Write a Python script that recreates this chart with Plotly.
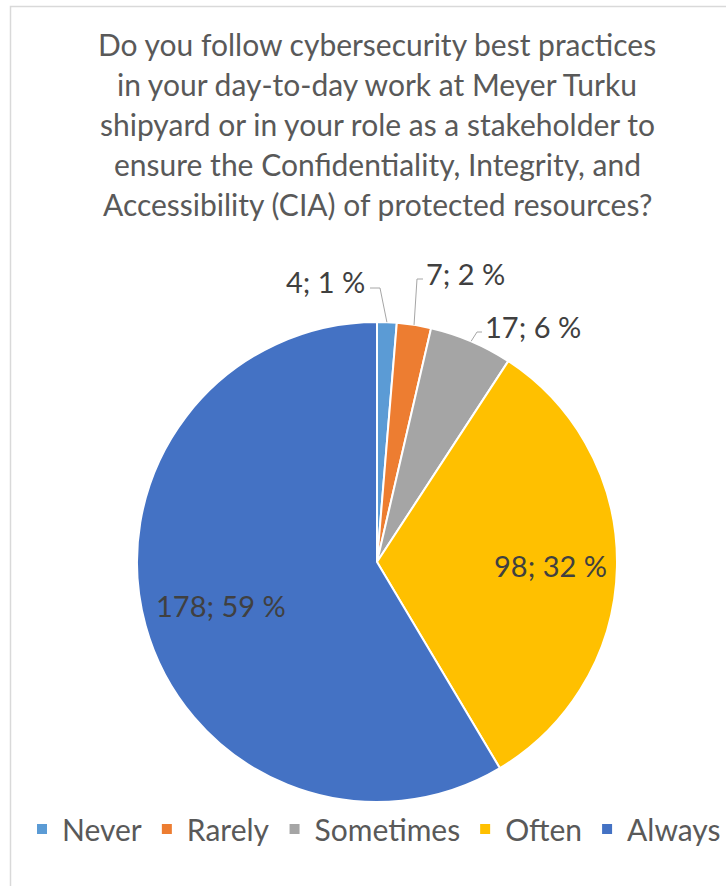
import math
import plotly.graph_objects as go

# Survey answers
categories = ["Never", "Rarely", "Sometimes", "Often", "Always"]
counts = [4, 7, 17, 98, 178]
colors = ["#5B9BD5", "#ED7D31", "#A5A5A5", "#FFC000", "#4472C4"]

title_lines = [
    "Do you follow cybersecurity best practices",
    "in your day-to-day work at Meyer Turku",
    "shipyard or in your role as a stakeholder to",
    "ensure the Confidentiality, Integrity, and",
    "Accessibility (CIA) of protected resources?",
]

# Canvas geometry (pixels)
W, H = 726, 886
CX, CY, R = 377, 562, 240
FONT = "Lato, 'Open Sans', sans-serif"
TITLE_TOP, TITLE_STEP = 44, 40


def px(x):
    return x / W


def py(y):
    return 1 - y / H


total = sum(counts)
percents = [round(v / total * 100) for v in counts]
label_texts = [f"{v}; {p} %" for v, p in zip(counts, percents)]

# mid-angle of each slice, clockwise from 12 o'clock
mid_angles = []
cum = 0
for v in counts:
    mid_angles.append(2 * math.pi * (cum + v / 2) / total)
    cum += v


def polar(theta, r):
    return CX + r * math.sin(theta), CY - r * math.cos(theta)


fig = go.Figure(
    go.Pie(
        labels=categories,
        values=counts,
        sort=False,
        direction="clockwise",
        rotation=0,
        marker=dict(colors=colors, line=dict(color="white", width=2)),
        textinfo="none",
        hoverinfo="skip",
        domain=dict(x=[px(CX - R), px(CX + R)], y=[py(CY + R), py(CY - R)]),
    )
)

annotations = []
shapes = []

# title, one line per annotation
for k, line in enumerate(title_lines):
    annotations.append(dict(
        x=px(CX), y=py(TITLE_TOP + k * TITLE_STEP), xref="paper", yref="paper",
        showarrow=False, text=line, xanchor="center", yanchor="middle",
        font=dict(family=FONT, size=30, color="#595959"),
    ))

# labels drawn inside the two large slices (radius fraction per slice)
inside = {3: 0.725, 4: 0.675}
for i, frac in inside.items():
    x, y = polar(mid_angles[i], R * frac)
    annotations.append(dict(
        x=px(x), y=py(y), xref="paper", yref="paper", showarrow=False,
        text=label_texts[i], xanchor="center", yanchor="middle",
        font=dict(family=FONT, size=29, color="#404040"),
    ))

# labels placed outside the small slices, with elbow leader lines
outside = {
    0: dict(lx=367, ly=282, anchor="right", elbow=380, end=370),
    1: dict(lx=424, ly=273, anchor="left", elbow=417, end=423),
    2: dict(lx=483, ly=326, anchor="left", elbow=477, end=482),
}
for i, o in outside.items():
    ex, ey = polar(mid_angles[i], R)
    line_y = o["ly"] + 6
    annotations.append(dict(
        x=px(o["lx"]), y=py(o["ly"]), xref="paper", yref="paper", showarrow=False,
        text=label_texts[i], xanchor=o["anchor"], yanchor="middle",
        font=dict(family=FONT, size=29, color="#404040"),
    ))
    shapes.append(dict(
        type="path", xref="paper", yref="paper",
        path=f"M{px(ex)},{py(ey)} L{px(o['elbow'])},{py(line_y)} L{px(o['end'])},{py(line_y)}",
        line=dict(color="#A6A6A6", width=1),
    ))

# chart frame
shapes.append(dict(
    type="rect", xref="paper", yref="paper",
    x0=px(10.5), x1=1.1, y0=-0.1, y1=py(6.5),
    line=dict(color="#D9D9D9", width=1.5), fillcolor="rgba(0,0,0,0)", layer="below",
))

fig.update_layout(
    width=W, height=H,
    margin=dict(l=0, r=0, t=0, b=0),
    paper_bgcolor="white", plot_bgcolor="white",
    legend=dict(
        orientation="h", x=px(380), xanchor="center", y=py(829), yanchor="middle",
        font=dict(family=FONT, size=30, color="#595959"),
        itemclick=False, itemdoubleclick=False,
    ),
    showlegend=True,
    annotations=annotations,
    shapes=shapes,
)

fig.write_html("out.html")
